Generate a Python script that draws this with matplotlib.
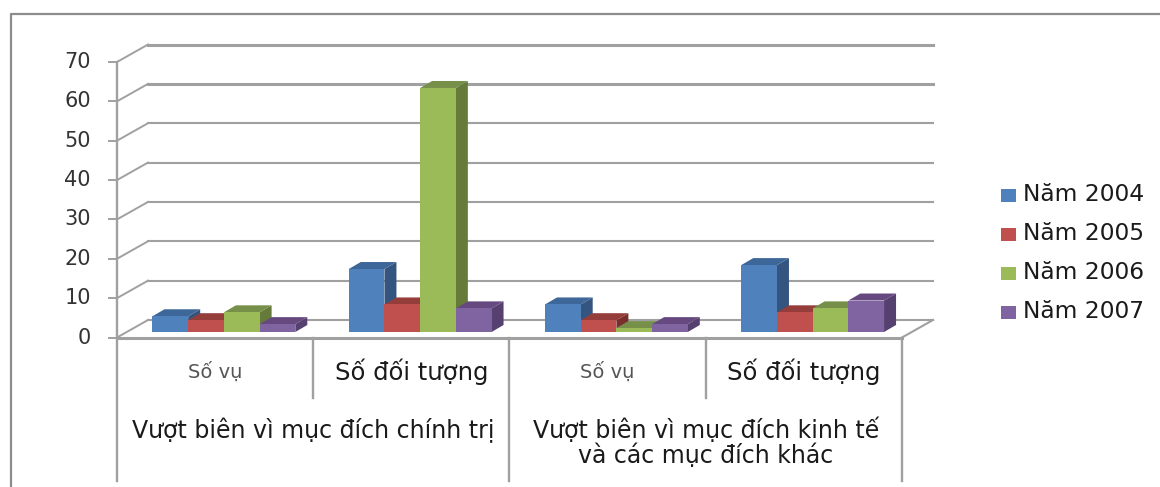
import numpy as np
import matplotlib
matplotlib.use("Agg")
import matplotlib.pyplot as plt
from matplotlib.patches import Polygon, Rectangle

plt.rcParams['font.family'] = ['DejaVu Sans']

years = ['Năm 2004', 'Năm 2005', 'Năm 2006', 'Năm 2007']
sub_labels = ['Số vụ', 'Số đối tượng', 'Số vụ', 'Số đối tượng']
group_labels = ['Vượt biên vì mục đích chính trị', 'Vượt biên vì mục đích kinh tế\nvà các mục đích khác']
values_2004 = [4, 16, 7, 17]
values_2005 = [3, 7, 3, 5]
values_2006 = [5, 62, 1, 6]
values_2007 = [2, 6, 2, 8]
y_ticks = [0, 10, 20, 30, 40, 50, 60, 70]

front_colors = ['#4f81bd', '#c0504d', '#9bbb59', '#8064a2']
top_colors = ['#3c6798', '#943d3a', '#76904a', '#65497f']
side_colors = ['#34557f', '#7a2f2d', '#667a3a', '#55406f']
grid_color = '#a0a0a0'
text_color = '#1a1a1a'

W, H = 1160, 487
fig = plt.figure(figsize=(W / 100, H / 100), dpi=100)

# whole-figure overlay for the outer frame
frame = fig.add_axes([0, 0, 1, 1])
frame.set_xlim(0, W)
frame.set_ylim(H, 0)
frame.axis('off')
frame.plot([11, 11, 1160], [487, 14, 14], color='#8c8c8c', lw=1.6)

# main axes is the front plane of the 3D chart
x0, x1, y0, y70 = 117, 902, 337.5, 62
ax = fig.add_axes([x0 / W, 1 - y0 / H, (x1 - x0) / W, (y0 - y70) / H])
ax.set_xlim(0, 4)
ax.set_ylim(0, 70)
ax.axis('off')
ax.patch.set_alpha(0)

px = 4 / (x1 - x0)        # data units per pixel in x
py = 70 / (y0 - y70)      # data units per pixel in y
wall_dx, wall_dy = 31 * px, 17.5 * py
depth_dx, depth_dy = 12 * px, 7 * py
base = 5.5 * py
bar_w = 35.7 * px
bar_off = 35.5 * px

kw = dict(clip_on=False)

# back wall gridlines, left wall slants and tick marks
for t in y_ticks:
    lw = 2.2 if t >= 60 else 1.5
    ax.plot([wall_dx, 4 + wall_dx], [t + wall_dy, t + wall_dy], color=grid_color, lw=lw, zorder=1, **kw)
    ax.plot([0, wall_dx], [t, t + wall_dy], color=grid_color, lw=1.4, zorder=1, **kw)
    ax.plot([-8 * px, 0], [t, t], color=grid_color, lw=1.4, zorder=1, **kw)
    ax.text(-26 * px, t, str(t), ha='right', va='center', fontsize=15, color='#333333', **kw)

# floor edges
ax.plot([4, 4 + wall_dx], [0, wall_dy], color=grid_color, lw=1.5, zorder=1, **kw)
ax.plot([0, 4], [0, 0], color=grid_color, lw=2.2, zorder=1, **kw)

# axis lines and separators below the floor
ax.plot([0, 0], [70, -143 * py], color=grid_color, lw=1.7, **kw)
for x, low in [(1, 60), (2, 143), (3, 60), (4, 143)]:
    ax.plot([x, x], [0, -low * py], color=grid_color, lw=1.7, **kw)

# bars, drawn back to front from left to right so the sides overlap properly
series = [values_2004, values_2005, values_2006, values_2007]
for g in range(4):
    for s, vals in enumerate(series):
        left = g + bar_off + s * bar_w
        right = left + bar_w
        top = base + vals[g]
        z = 3 + g * 4 + s
        ax.add_patch(Polygon([(right, base), (right + depth_dx, base + depth_dy),
                              (right + depth_dx, top + depth_dy), (right, top)],
                             facecolor=side_colors[s], edgecolor='none', zorder=z, **kw))
        ax.add_patch(Polygon([(left, top), (left + depth_dx, top + depth_dy),
                              (right + depth_dx, top + depth_dy), (right, top)],
                             facecolor=top_colors[s], edgecolor='none', zorder=z, **kw))
        ax.add_patch(Rectangle((left, base), bar_w, vals[g], facecolor=front_colors[s],
                               edgecolor='none', zorder=z + 0.5, **kw))

# category labels
for g, lab in enumerate(sub_labels):
    small = lab == 'Số vụ'
    ax.text(g + 0.5, -34 * py, lab, ha='center', va='center', fontsize=14 if small else 17.5,
            color='#555555' if small else text_color, **kw)
ax.text(1, -93 * py, group_labels[0], ha='center', va='center', fontsize=17, color=text_color, **kw)
ax.text(3, -105 * py, group_labels[1], ha='center', va='center', fontsize=17, color=text_color,
        linespacing=1.05, **kw)

# legend
for i, (lab, c) in enumerate(zip(years, front_colors)):
    ly = 195.5 + i * 39
    frame.add_patch(Rectangle((1001, ly - 6.5), 15, 13, facecolor=c, edgecolor='none'))
    frame.text(1023, ly - 1, lab, ha='left', va='center', fontsize=16.8, color=text_color)

fig.savefig('out.png', dpi=100)
